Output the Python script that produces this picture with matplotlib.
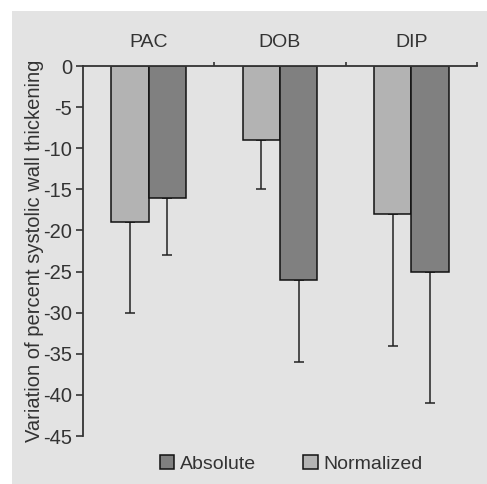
import numpy as np
import matplotlib.pyplot as plt
from matplotlib.patches import Rectangle

# data
groups = ['PAC', 'DOB', 'DIP']
normalized = [-19, -9, -18]
normalized_err_end = [-30, -15, -34]
absolute = [-16, -26, -25]
absolute_err_end = [-23, -36, -41]
yticks = [0, -5, -10, -15, -20, -25, -30, -35, -40, -45]

plt.rcParams['font.family'] = ['Liberation Sans', 'DejaVu Sans']
txt = '#333333'

fig = plt.figure(figsize=(4.87, 4.84), dpi=100)
fig.patches.append(Rectangle((12 / 487, 0), 1, 1 - 11 / 484, transform=fig.transFigure,
                             facecolor='#e3e3e3', edgecolor='none', zorder=-1))

ax = fig.add_axes([83 / 487, 1 - 436 / 484, (477 - 83) / 487, (436 - 66) / 484])
ax.patch.set_alpha(0)

x = np.arange(len(groups))
w = 0.285
norm_arr = np.array(normalized)
abs_arr = np.array(absolute)

ax.bar(x - w / 2, norm_arr, w, color='#b3b3b3', edgecolor='#111111', linewidth=1.1,
       label='Normalized', zorder=2)
ax.bar(x + w / 2, abs_arr, w, color='#808080', edgecolor='#111111', linewidth=1.1,
       label='Absolute', zorder=2)

ax.errorbar(x - w / 2, norm_arr, yerr=[norm_arr - np.array(normalized_err_end), np.zeros(3)],
            fmt='none', ecolor='#222222', elinewidth=1.1, capsize=3.6, capthick=1.1, zorder=1)
ax.errorbar(x + w / 2, abs_arr, yerr=[abs_arr - np.array(absolute_err_end), np.zeros(3)],
            fmt='none', ecolor='#222222', elinewidth=1.1, capsize=3.6, capthick=1.1, zorder=1)

ax.set_xlim(-0.5, 2.5)
ax.set_ylim(-45, 0)
ax.set_yticks(yticks)
ax.set_yticklabels([str(v) for v in yticks])

ax.xaxis.tick_top()
ax.set_xticks(x)
ax.set_xticklabels(groups)
ax.set_xticks([0.5, 1.5, 2.5], minor=True)
ax.tick_params(axis='x', which='major', length=0, pad=11, labelsize=14, colors=txt)
ax.tick_params(axis='x', which='minor', length=3, width=1.2, direction='out', color=txt)
ax.tick_params(axis='y', length=5, width=1.2, pad=3, labelsize=14.5, colors=txt)

for s in ['right', 'bottom']:
    ax.spines[s].set_visible(False)
for s in ['left', 'top']:
    ax.spines[s].set_linewidth(1.3)
    ax.spines[s].set_color(txt)
    ax.spines[s].set_zorder(3)

ax.set_ylabel('Variation of percent systolic wall thickening', fontsize=14.5, color=txt, labelpad=-0.5)

handles, labels = ax.get_legend_handles_labels()
fig.legend(handles[::-1], labels[::-1], loc='center', bbox_to_anchor=(0.598, 1 - 464 / 484),
           ncol=2, frameon=False, fontsize=14, handlelength=0.75, handleheight=0.75,
           handletextpad=0.3, columnspacing=2.4, labelcolor=txt)

fig.savefig('out.png', dpi=100)
